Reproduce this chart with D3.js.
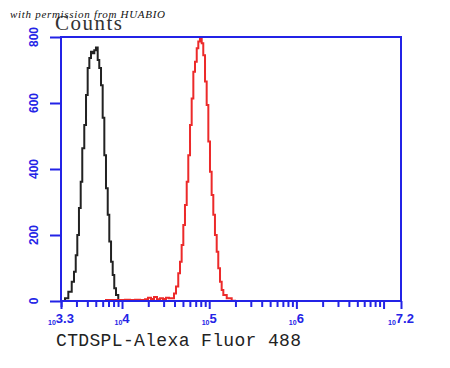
<!DOCTYPE html>
<html>
<head>
<meta charset="utf-8">
<script src="https://cdn.jsdelivr.net/npm/d3@7"></script>
<style>
  body { margin: 0; background: #fff; }
  svg { display: block; }
</style>
</head>
<body>
<div id="chart"></div>
<script>
// histogram data: log10 fluorescence (bin start) and counts
const blackLog = [3.312, 3.346, 3.384, 3.423, 3.449, 3.469, 3.487, 3.506, 3.526, 3.544, 3.567, 3.587, 3.606, 3.625, 3.644, 3.664, 3.682, 3.701, 3.721, 3.739, 3.759, 3.778, 3.797, 3.816, 3.836, 3.854, 3.874, 3.893, 3.911, 3.931, 3.957, 3.977];
const blackCounts = [0, 8, 28, 58, 89, 139, 200, 282, 361, 463, 533, 624, 706, 736, 755, 751, 760, 768, 730, 706, 654, 555, 442, 342, 261, 180, 119, 79, 39, 18, 3, 0];

const redLog = [3.805, 3.862, 3.919, 3.977, 4.034, 4.091, 4.149, 4.206, 4.264, 4.298, 4.332, 4.367, 4.401, 4.436, 4.470, 4.504, 4.539, 4.570, 4.596, 4.619, 4.645, 4.665, 4.684, 4.703, 4.722, 4.742, 4.760, 4.780, 4.799, 4.818, 4.837, 4.857, 4.875, 4.894, 4.914, 4.932, 4.952, 4.971, 4.990, 5.009, 5.028, 5.047, 5.066, 5.086, 5.104, 5.124, 5.143, 5.162, 5.201, 5.258, 5.296];
const redCounts = [3, 3, 3, 3, 4, 3, 4, 3, 5, 10, 6, 12, 5, 8, 6, 10, 8, 8, 23, 44, 84, 119, 170, 230, 291, 361, 442, 533, 614, 695, 725, 766, 786, 796, 781, 745, 665, 594, 483, 392, 321, 261, 200, 149, 99, 58, 33, 18, 8, 1, 0];

const yTicks = [0, 200, 400, 600, 800];
const xLabelExp = ["3.3", "4", "5", "6", "7.2"];
const xDomainExp = [3.3, 7.2];

const blue = "#2323e6";

const svg = d3.select("#chart").append("svg")
    .attr("width", 450)
    .attr("height", 368);

const plot = {left: 61, right: 401, top: 37, bottom: 301};

const x = d3.scaleLog()
    .domain([Math.pow(10, xDomainExp[0]), Math.pow(10, xDomainExp[1])])
    .range([plot.left, plot.right]);
const y = d3.scaleLinear()
    .domain([0, 800])
    .range([plot.bottom, plot.top]);

// minor and major tick values for the log axis
let minorTicks = [], majorTicks = [];
for (let e = 3; e <= 7; e++) {
    for (let m = 1; m <= 9; m++) {
        const v = m * Math.pow(10, e);
        if (v < x.domain()[0] * 0.999 || v > x.domain()[1]) continue;
        if (m === 1) majorTicks.push(v); else minorTicks.push(v);
    }
}
majorTicks.push(x.domain()[0], x.domain()[1]);

// histograms
const line = d3.line()
    .x(function(d) { return x(Math.pow(10, d[0])); })
    .y(function(d) { return y(d[1]); })
    .curve(d3.curveStepAfter);

svg.append("path")
    .datum(blackLog.map(function(v, i) { return [v, blackCounts[i]]; }))
    .attr("fill", "none")
    .attr("stroke", "#222")
    .attr("stroke-width", 2)
    .attr("d", line);

svg.append("path")
    .datum(redLog.map(function(v, i) { return [v, redCounts[i]]; }))
    .attr("fill", "none")
    .attr("stroke", "#ec2a2a")
    .attr("stroke-width", 2)
    .attr("d", line);

// frame
svg.append("rect")
    .attr("x", plot.left).attr("y", plot.top)
    .attr("width", plot.right - plot.left).attr("height", plot.bottom - plot.top)
    .attr("fill", "none")
    .attr("stroke", blue)
    .attr("stroke-width", 2);

// x axis ticks
const xMinor = svg.append("g")
    .attr("transform", "translate(0," + plot.bottom + ")")
    .call(d3.axisBottom(x).tickValues(minorTicks).tickFormat("").tickSizeInner(6).tickSizeOuter(0));
const xMajor = svg.append("g")
    .attr("transform", "translate(0," + plot.bottom + ")")
    .call(d3.axisBottom(x).tickValues(majorTicks).tickFormat("").tickSizeInner(8).tickSizeOuter(0));
[xMinor, xMajor].forEach(function(g) {
    g.select(".domain").remove();
    g.selectAll("line").attr("stroke", blue).attr("stroke-width", 2);
});

// x labels: small "10" then exponent
svg.selectAll(".xlab")
    .data(xLabelExp)
    .enter().append("text")
    .attr("class", "xlab")
    .attr("x", function(d) { return x(Math.pow(10, +d)); })
    .attr("y", 323)
    .attr("text-anchor", "middle")
    .attr("fill", blue)
    .attr("font-family", "Liberation Sans, Arial, sans-serif")
    .attr("font-weight", "bold")
    .each(function(d) {
        const t = d3.select(this);
        t.append("tspan").attr("font-size", 7).attr("dy", 2).text("10");
        t.append("tspan").attr("font-size", 13).attr("dy", -2).text(d);
    });

// y axis ticks
const yAxis = svg.append("g")
    .attr("transform", "translate(" + plot.left + ",0)")
    .call(d3.axisLeft(y).tickValues(yTicks).tickFormat("").tickSizeInner(11).tickSizeOuter(0));
yAxis.select(".domain").remove();
yAxis.selectAll("line").attr("stroke", blue).attr("stroke-width", 2);

svg.selectAll(".ylab")
    .data(yTicks)
    .enter().append("text")
    .attr("class", "ylab")
    .attr("transform", function(d) { return "translate(38," + y(d) + ") rotate(-90)"; })
    .attr("text-anchor", "middle")
    .attr("fill", blue)
    .attr("font-family", "Liberation Sans, Arial, sans-serif")
    .attr("font-weight", "bold")
    .attr("font-size", 12)
    .text(function(d) { return d; });

// titles
svg.append("text")
    .attr("x", 55).attr("y", 30)
    .attr("font-family", "Liberation Serif, serif")
    .attr("font-size", 21)
    .attr("fill", "#333")
    .attr("textLength", 67)
    .text("Counts");

svg.append("text")
    .attr("x", 10).attr("y", 18)
    .attr("font-family", "Liberation Serif, serif")
    .attr("font-style", "italic")
    .attr("font-size", 11)
    .attr("fill", "#111")
    .attr("textLength", 155)
    .text("with permission from HUABIO");

svg.append("text")
    .attr("x", 56).attr("y", 346)
    .attr("font-family", "Liberation Mono, monospace")
    .attr("font-size", 18)
    .attr("fill", "#222")
    .attr("textLength", 245)
    .text("CTDSPL-Alexa Fluor 488");
</script>
</body>
</html>
